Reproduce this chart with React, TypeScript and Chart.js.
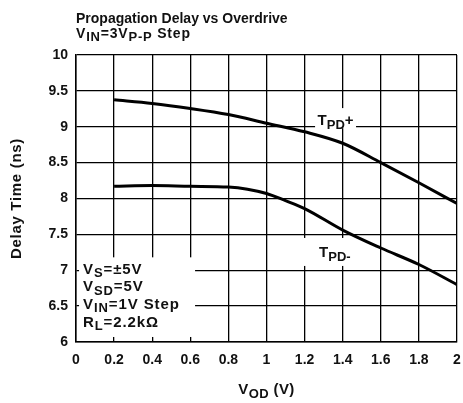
import React, { useEffect, useRef } from "react";
import { Chart, registerables } from "chart.js";

Chart.register(...registerables);

// ---- data ----
const vodPlus = [0.2, 0.4, 0.6, 0.8, 1.0, 1.2, 1.4, 1.6, 1.8, 2.0];
const tpdPlus = [9.375, 9.325, 9.255, 9.17, 9.05, 8.93, 8.77, 8.5, 8.22, 7.93];
const vodMinus = [0.2, 0.4, 0.6, 0.8, 0.9, 1.0, 1.1, 1.2, 1.4, 1.6, 1.8, 2.0];
const tpdMinus = [8.17, 8.18, 8.17, 8.16, 8.13, 8.07, 7.97, 7.86, 7.56, 7.31, 7.08, 6.8];

const xMin = 0, xMax = 2, xStep = 0.2;
const yMin = 6, yMax = 10, yStep = 0.5;

const titleLine1 = "Propagation Delay vs Overdrive";
const yTitle = "Delay Time (ns)";

const FONT = '"Liberation Sans", Arial, Helvetica, sans-serif';

type Seg = [string, number]; // 0 normal, 1 subscript

function richWidth(ctx: CanvasRenderingContext2D, segs: Seg[], main: number, sub: number) {
  let w = 0;
  for (const [t, k] of segs) {
    ctx.font = `bold ${k ? sub : main}px ${FONT}`;
    w += ctx.measureText(t).width;
  }
  return w;
}

function drawRich(
  ctx: CanvasRenderingContext2D,
  segs: Seg[],
  x: number,
  y: number,
  main: number,
  sub: number,
  shift: number,
  align: "left" | "center" = "left"
) {
  ctx.textAlign = "left";
  ctx.textBaseline = "alphabetic";
  let cx = x;
  if (align === "center") cx = x - richWidth(ctx, segs, main, sub) / 2;
  for (const [t, k] of segs) {
    ctx.font = `bold ${k ? sub : main}px ${FONT}`;
    ctx.fillText(t, cx, y + (k ? shift : 0));
    cx += ctx.measureText(t).width;
  }
}

const fmt = (v: number) => String(Number(v.toFixed(1)));

const annotPlugin = {
  id: "annot",
  beforeDatasetsDraw(chart: any) {
    const { ctx, scales } = chart;
    const px = (v: number) => scales.x.getPixelForValue(v);
    const py = (v: number) => scales.y.getPixelForValue(v);
    ctx.save();
    ctx.fillStyle = "#ffffff";
    const boxes = [
      [0.016, 7.18, 0.625, 6.07],
      [1.255, 9.26, 1.47, 8.98],
      [1.186, 7.45, 1.533, 7.06],
    ];
    for (const [x0, y0, x1, y1] of boxes) {
      ctx.fillRect(px(x0), py(y0), px(x1) - px(x0), py(y1) - py(y0));
    }
    ctx.restore();
  },
  afterDraw(chart: any) {
    const { ctx, scales, chartArea } = chart;
    const px = (v: number) => scales.x.getPixelForValue(v);
    const py = (v: number) => scales.y.getPixelForValue(v);
    ctx.save();
    ctx.fillStyle = "#111111";

    // title
    ctx.font = `bold 14px ${FONT}`;
    ctx.textAlign = "left";
    ctx.textBaseline = "alphabetic";
    ctx.fillText(titleLine1, chartArea.left, 23);
    (ctx as any).letterSpacing = "0.8px";
    drawRich(ctx, [["V", 0], ["IN", 1], ["=3V", 0], ["P-P", 1], [" Step", 0]], chartArea.left, 38, 14, 13, 3);
    (ctx as any).letterSpacing = "0px";

    // y title
    ctx.save();
    ctx.translate(17, (chartArea.top + chartArea.bottom) / 2);
    ctx.rotate(-Math.PI / 2);
    ctx.font = `bold 15px ${FONT}`;
    ctx.textAlign = "center";
    ctx.textBaseline = "middle";
    (ctx as any).letterSpacing = "0.7px";
    ctx.fillText(yTitle, 0, 0);
    ctx.restore();

    // x title
    (ctx as any).letterSpacing = "0.4px";
    drawRich(ctx, [["V", 0], ["OD", 1], [" (V)", 0]], (chartArea.left + chartArea.right) / 2, 394, 15, 13, 4, "center");

    // conditions box
    (ctx as any).letterSpacing = "0.9px";
    const lx = px(0.037);
    drawRich(ctx, [["V", 0], ["S", 1], ["=±5V", 0]], lx, py(6.948), 15, 13, 3.5);
    drawRich(ctx, [["V", 0], ["SD", 1], ["=5V", 0]], lx, py(6.704), 15, 13, 3.5);
    drawRich(ctx, [["V", 0], ["IN", 1], ["=1V Step", 0]], lx, py(6.46), 15, 13, 3.5);
    drawRich(ctx, [["R", 0], ["L", 1], ["=2.2kΩ", 0]], lx, py(6.216), 15, 13, 3.5);
    (ctx as any).letterSpacing = "0px";

    // curve labels
    drawRich(ctx, [["T", 0], ["PD", 1], ["+", 0]], px(1.268), py(9.03), 15, 13, 4.5);
    drawRich(ctx, [["T", 0], ["PD", 1], ["-", 1]], px(1.276), py(7.19), 15, 13, 4.5);

    ctx.restore();
  },
};

export default function App() {
  const ref = useRef<HTMLCanvasElement | null>(null);

  useEffect(() => {
    if (!ref.current) return;
    const chart = new Chart(ref.current, {
      type: "line",
      data: {
        datasets: [
          {
            label: "TPD+",
            data: vodPlus.map((x, i) => ({ x, y: tpdPlus[i] })),
            borderColor: "#000",
            borderWidth: 3,
            pointRadius: 0,
            cubicInterpolationMode: "monotone",
            fill: false,
          },
          {
            label: "TPD-",
            data: vodMinus.map((x, i) => ({ x, y: tpdMinus[i] })),
            borderColor: "#000",
            borderWidth: 3,
            pointRadius: 0,
            cubicInterpolationMode: "monotone",
            fill: false,
          },
        ],
      },
      options: {
        responsive: false,
        animation: false,
        devicePixelRatio: 1,
        layout: { padding: { top: 55, right: 6, left: 0, bottom: 0 } },
        plugins: { legend: { display: false }, tooltip: { enabled: false }, title: { display: false } },
        scales: {
          x: {
            type: "linear",
            min: xMin,
            max: xMax,
            afterFit: (s: any) => { s.height = 61; s.paddingLeft = 0; s.paddingRight = 0; },
            ticks: {
              stepSize: xStep,
              callback: (v: any) => fmt(Number(v)),
              color: "#111",
              font: { family: FONT, size: 14, weight: "bold" },
              padding: 10,
              maxRotation: 0,
              autoSkip: false,
            },
            grid: { color: "#000", lineWidth: 1.3, drawTicks: false },
            border: { display: true, color: "#000", width: 1.5 },
          },
          y: {
            type: "linear",
            min: yMin,
            max: yMax,
            afterFit: (s: any) => { s.width = 76; s.paddingTop = 0; s.paddingBottom = 0; },
            ticks: {
              stepSize: yStep,
              callback: (v: any) => fmt(Number(v)),
              color: "#111",
              font: { family: FONT, size: 14, weight: "bold" },
              padding: 8,
              autoSkip: false,
            },
            grid: { color: "#000", lineWidth: 1.3, drawTicks: false },
            border: { display: true, color: "#000", width: 1.5 },
          },
        },
      },
      plugins: [annotPlugin],
    } as any);
    return () => chart.destroy();
  }, []);

  return (
    <div style={{ position: "absolute", left: 0, top: 0, width: 463, height: 403, background: "#fff" }}>
      <canvas ref={ref} width={463} height={403} style={{ display: "block", width: 463, height: 403 }} />
    </div>
  );
}
